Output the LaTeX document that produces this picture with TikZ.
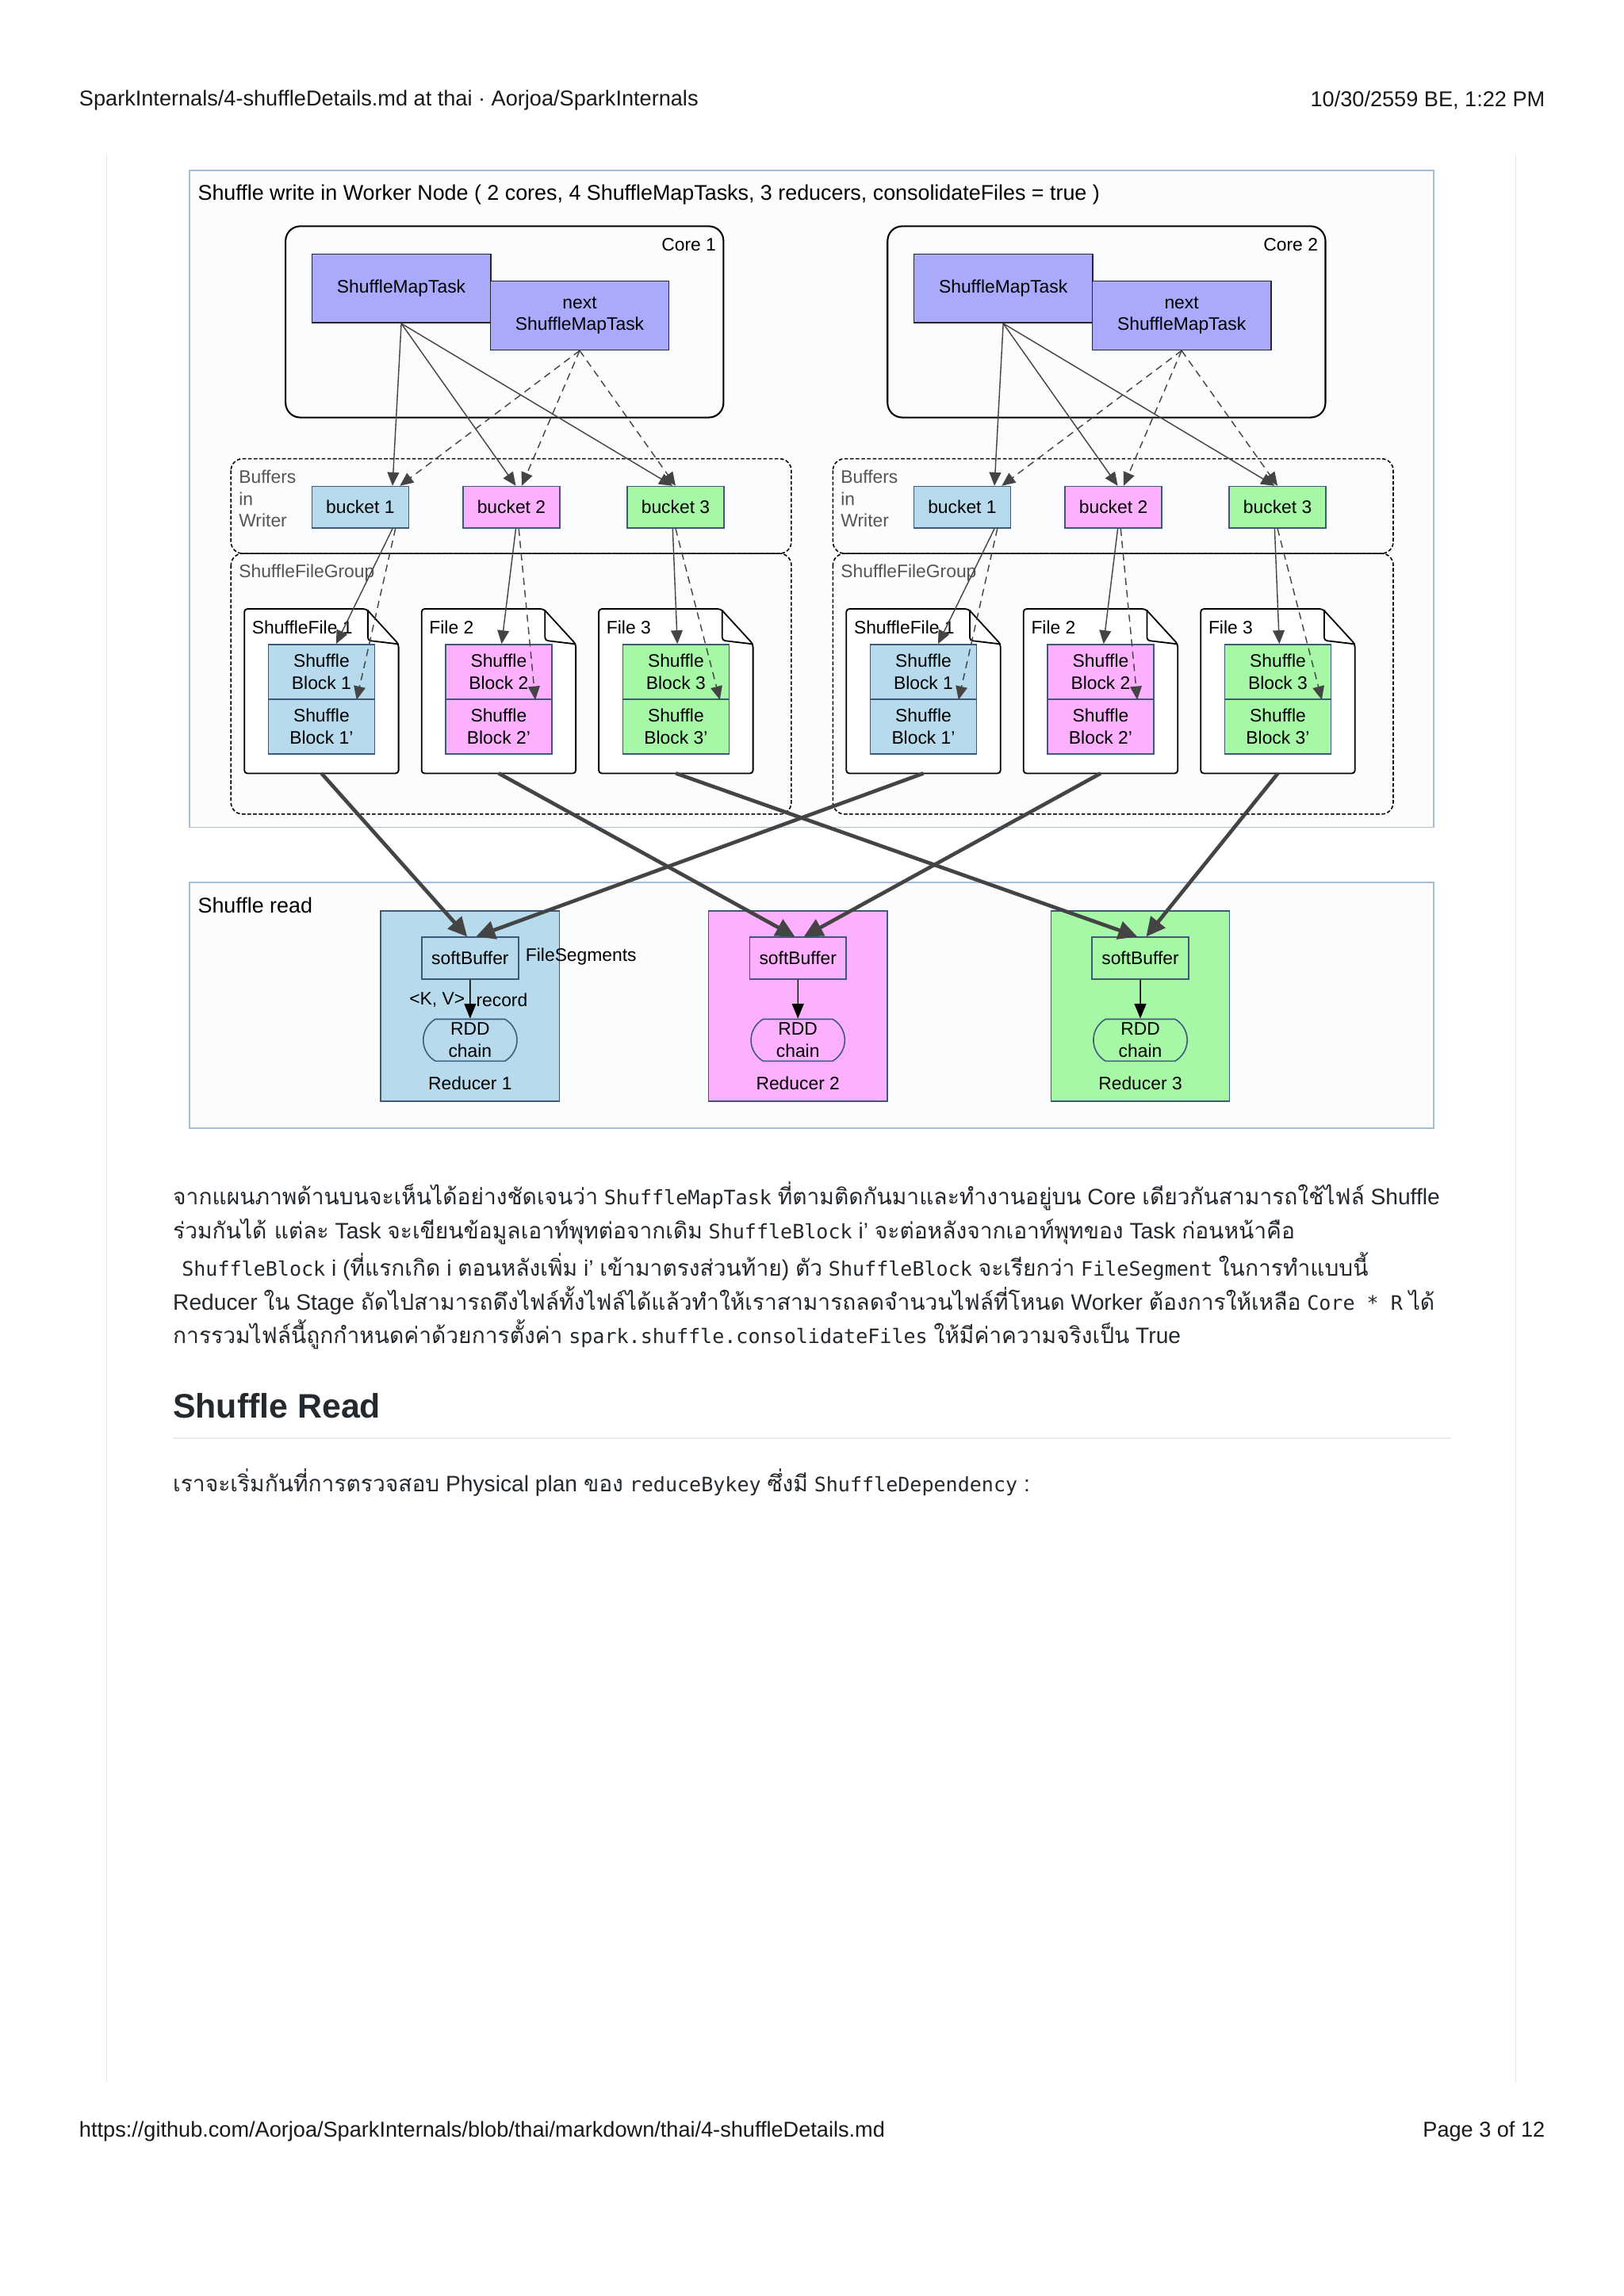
\documentclass[tikz,border=0pt]{standalone}
\usepackage{fontspec}
\setmainfont{Liberation Sans}
\newfontfamily\thaitxt[Script=Thai]{Loma}
\newfontfamily\codetxt{DejaVu Sans Mono}
\usetikzlibrary{arrows.meta,calc,shapes.misc}
\definecolor{framec}{HTML}{A9BCD6}
\definecolor{framefill}{HTML}{FBFCFD}
\definecolor{taskc}{HTML}{AAAAFC}
\definecolor{bluec}{HTML}{B7DAEC}
\definecolor{pinkc}{HTML}{FDB0FD}
\definecolor{greenc}{HTML}{A6F8A6}
\definecolor{edgec}{HTML}{3E5878}
\definecolor{arrowc}{HTML}{444444}
\definecolor{labelc}{HTML}{555555}
\definecolor{pagec}{HTML}{E6E6E6}
\definecolor{rulec}{HTML}{EAECEF}
\definecolor{inkc}{HTML}{24292E}
\newcommand{\thaispan}[1]{{\thaitxt #1}}
\newcommand{\codespan}[1]{{\codetxt\fontsize{19.3}{24}\selectfont #1}}
\begin{document}
\begin{tikzpicture}[x=0.05cm,y=-0.05cm]
        \tikzset{
            txt/.style={font=\fontsize{17.6}{21.3}\selectfont,inner sep=0pt},
            title/.style={font=\fontsize{20.7}{24}\selectfont,inner sep=0pt,anchor=west},
            frame/.style={draw=framec,fill=framefill,line width=1.4pt},
            corebox/.style={draw=black,rounded corners=0.5cm,line width=1.6pt,minimum width=14.95cm,minimum height=6.53cm},
            group/.style={draw=black,rounded corners=0.4cm,line width=1.2pt,dash pattern=on 3.5pt off 2pt},
            task/.style={txt,draw=black!85,fill=taskc,line width=1.2pt,minimum width=6.1cm,minimum height=2.35cm,align=center},
            bucket/.style={txt,draw=edgec,line width=1.2pt,minimum width=3.3cm,minimum height=1.42cm},
            block/.style={txt,draw=edgec,line width=1.1pt,minimum width=3.63cm,minimum height=1.87cm,align=center},
            filebox/.style={inner sep=0pt,minimum width=5.25cm,minimum height=5.6cm},
            fileline/.style={draw=black,fill=white,line width=1.4pt,rounded corners=0.1cm},
            glabel/.style={txt,text=labelc,align=left,anchor=west},
            push/.style={-{Triangle[length=0.46cm,width=0.4cm]},draw=arrowc,line width=1.1pt},
            pushnext/.style={push,dash pattern=on 7pt off 5pt},
            bigarrow/.style={-{Triangle[length=0.65cm,width=0.62cm]},draw=arrowc,line width=3.6pt},
            readarrow/.style={-{Triangle[length=0.5cm,width=0.4cm]},draw=black,line width=1.1pt},
            reducer/.style={draw=edgec,line width=1.2pt,minimum width=6.1cm,minimum height=6.5cm},
            softbuf/.style={txt,draw=edgec,line width=1.2pt,minimum width=3.3cm,minimum height=1.43cm},
            rdd/.style={txt,rounded rectangle,rounded rectangle arc length=120,draw=edgec,line width=1.2pt,minimum width=3.2cm,minimum height=1.43cm,align=center},
            pagetxt/.style={font=\fontsize{20.9}{24}\selectfont,inner sep=0pt,text=black!90},
            body/.style={font=\fontsize{21.7}{26}\selectfont,inner sep=0pt,anchor=west,text=inkc}
        }
        \useasboundingbox[fill=white] (0,0) rectangle (1108.8,1568);

        \node[pagetxt,anchor=west] (head) at (54,68.6) {SparkInternals/4-shuffleDetails.md at thai · Aorjoa/SparkInternals};
        \node[pagetxt,anchor=east] (date) at (1055,68.6) {10/30/2559 BE, 1:22 PM};
        \node[pagetxt,anchor=west] (url) at (54,1455.5) {https://github.com/Aorjoa/SparkInternals/blob/thai/markdown/thai/4-shuffleDetails.md};
        \node[pagetxt,anchor=east] (page) at (1055,1455.5) {Page 3 of 12};
        \draw[draw=pagec,line width=0.9pt] (73,105.6) -- (73,1422);
        \draw[draw=pagec,line width=0.9pt] (1035,105.6) -- (1035,1422);

        \draw[frame] (129.5,116.4) rectangle (979,565);
        \node[title] (wtitle) at (135,133) {Shuffle write in Worker Node ( 2 cores, 4 ShuffleMapTasks, 3 reducers, consolidateFiles = true )};

        \foreach \c/\ox in {1/0,2/411}{
                \node[corebox] (core\c) at (344.5+\ox,219.8) {};
                \node[txt,anchor=east] (cl\c) at (489+\ox,167) {Core \c};
                \node[task] (smt\c) at (274+\ox,197) {ShuffleMapTask};
                \node[task] (next\c) at (395.8+\ox,215.5) {next\\ShuffleMapTask};
                \draw[group] (157.7+\ox,313.3) rectangle (540.3+\ox,378);
                \draw[group] (157.7+\ox,378) rectangle (540.3+\ox,556);
                \node[glabel] (bl\c) at (163+\ox,340.5) {Buffers\\in\\Writer};
                \node[glabel] (gl\c) at (163+\ox,391.5) {ShuffleFileGroup};
                \foreach \k/\bx/\fx/\col/\sa/\da/\sb/\db/\fl in {1/246/219.5/bluec/22/27/10/24/ShuffleFile 1,2/349.2/340.5/pinkc/3/7/2/25/File 2,3/461.3/461.5/greenc/-2/0/1/30/File 3}{
                        \node[bucket,fill=\col] (b\c\k) at (\bx+\ox,346.4) {bucket \k};
                        \node[filebox] (f\c\k) at (\fx+\ox,472) {};
                        \draw[fileline] (f\c\k.south west) -- (f\c\k.north west) -- ($(f\c\k.north east)+(-22,0)$) -- ($(f\c\k.north east)+(0,24)$) -- (f\c\k.south east) -- cycle;
                        \draw[fileline,fill=none] ($(f\c\k.north east)+(-21,0.5)$) -- ($(f\c\k.north east)+(-21,21.5)$) -- ($(f\c\k.north east)+(0,24)$);
                        \node[txt,anchor=west] (fl\c\k) at (\fx-47.5+\ox,428.7) {\fl};
                        \node[block,fill=\col] (u\c\k) at (\fx+\ox,458.8) {Shuffle\\Block \k};
                        \node[block,fill=\col] (l\c\k) at (\fx+\ox,496.2) {Shuffle\\Block \k’};
                        \draw[push] (smt\c.south) -- ($(b\c\k.north)+(\sa,0)$);
                        \draw[pushnext] (next\c.south) -- ($(b\c\k.north)+(\da,0)$);
                        \draw[push] ($(b\c\k.south)+(\sa,0)$) -- ($(u\c\k.north)+(\sb,0)$);
                        \draw[pushnext] ($(b\c\k.south)+(\sa+2,0)$) -- ($(u\c\k.south)+(\db,0)$);
                    }
            }

        \draw[frame] (129.5,602.8) rectangle (979,770.6);
        \node[title] (rtitle) at (135,618) {Shuffle read};

        \foreach \k/\rx/\col in {1/321/bluec,2/544.8/pinkc,3/778.6/greenc}{
                \node[reducer,fill=\col] (red\k) at (\rx,687) {};
                \node[softbuf,fill=\col] (s\k) at (\rx,654.4) {softBuffer};
                \node[rdd,fill=\col] (r\k) at (\rx,710.3) {RDD\\chain};
                \node[txt] (rl\k) at (\rx,740) {Reducer \k};
                \draw[readarrow] (s\k) -- (r\k);
            }
        \node[txt,anchor=west] (seg) at (358.8,653.3) {FileSegments};
        \node[txt,anchor=east] (kv) at (317.5,683) {<K, V>};
        \node[txt,anchor=west] (rec) at (325,683) {record};

        \foreach \c/\e in {1/-2,2/4}{
                \foreach \k in {1,2,3}{
                        \draw[bigarrow] (f\c\k.south) -- ($(s\k.north)+(\e,0)$);
                    }
            }

        \node[body] (p1) at (118,817) {\thaispan{จากแผนภาพด้านบนจะเห็นได้อย่างชัดเจนว่า} \codespan{ShuffleMapTask} \thaispan{ที่ตามติดกันมาและทำงานอยู่บน} Core \thaispan{เดียวกันสามารถใช้ไฟล์} Shuffle};
        \node[body] (p2) at (118,841) {\thaispan{ร่วมกันได้ แต่ละ} Task \thaispan{จะเขียนข้อมูลเอาท์พุทต่อจากเดิม} \codespan{ShuffleBlock} i' \thaispan{จะต่อหลังจากเอาท์พุทของ} Task \thaispan{ก่อนหน้าคือ}};
        \node[body] (p3) at (124,865) {\codespan{ShuffleBlock} i (\thaispan{ที่แรกเกิด} i \thaispan{ตอนหลังเพิ่ม} i' \thaispan{เข้ามาตรงส่วนท้าย}) \thaispan{ตัว} \codespan{ShuffleBlock} \thaispan{จะเรียกว่า} \codespan{FileSegment} \thaispan{ในการทำแบบนี้}};
        \node[body] (p4) at (118,888) {Reducer \thaispan{ใน} Stage \thaispan{ถัดไปสามารถดึงไฟล์ทั้งไฟล์ได้แล้วทำให้เราสามารถลดจำนวนไฟล์ที่โหนด} Worker \thaispan{ต้องการให้เหลือ} \codespan{Core * R} \thaispan{ได้}};
        \node[body] (p5) at (118,911.4) {\thaispan{การรวมไฟล์นี้ถูกกำหนดค่าด้วยการตั้งค่า} \codespan{spark.shuffle.consolidateFiles} \thaispan{ให้มีค่าความจริงเป็น} True};
        \node[anchor=west,inner sep=0pt,text=inkc,font=\bfseries\fontsize{33}{38}\selectfont] (h2) at (118,960) {Shuffle Read};
        \draw[draw=rulec,line width=1.6pt] (118,982) -- (990.6,982);
        \node[body] (p6) at (118,1012.5) {\thaispan{เราจะเริ่มกันที่การตรวจสอบ} Physical plan \thaispan{ของ} \codespan{reduceBykey} \thaispan{ซึ่งมี} \codespan{ShuffleDependency} :};

    \end{tikzpicture}
\end{document}
